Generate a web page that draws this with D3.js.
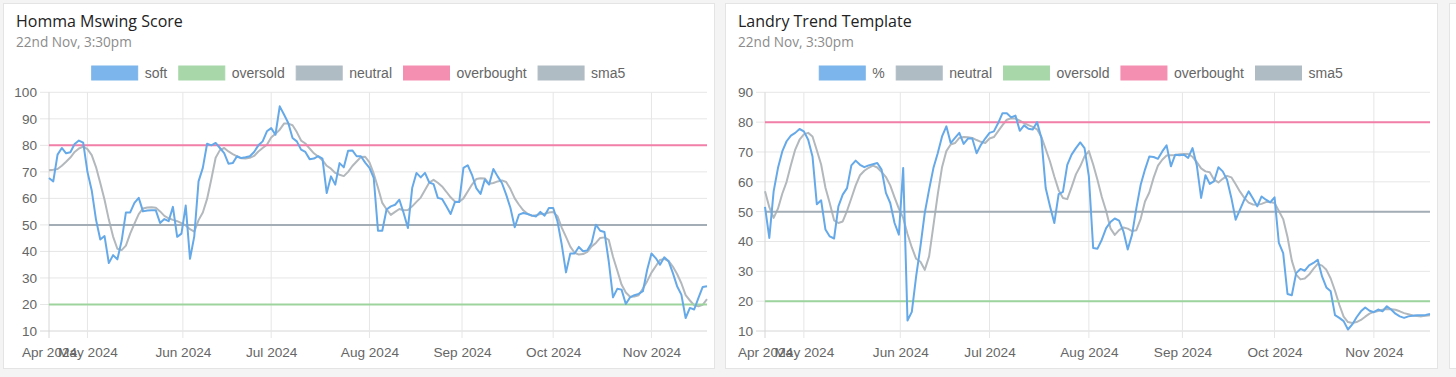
<!DOCTYPE html>
<html>
<head>
<meta charset="utf-8">
<script src="https://cdn.jsdelivr.net/npm/d3@7"></script>
<style>
    body { margin: 0; background: #f4f4f4; }
    .title { font-family: "Open Sans", sans-serif; font-size: 16px; fill: #222; }
    .subtitle { font-family: "Open Sans", sans-serif; font-size: 13.6px; fill: #8c8c8c; }
    .legend text, .axis text { font-family: "Liberation Sans", Arial, sans-serif; fill: #666; }
</style>
</head>
<body>
<svg id="chart" width="1456" height="377"></svg>
<script>
// trading days shown on both charts (weekdays between these two)
const firstDay = "2024-04-18";
const lastDay = "2024-11-20";
const monthLabels = ["Apr 2024", "May 2024", "Jun 2024", "Jul 2024", "Aug 2024", "Sep 2024", "Oct 2024", "Nov 2024"];

const mswingTicks = [10, 20, 30, 40, 50, 60, 70, 80, 90, 100];
const landryTicks = [10, 20, 30, 40, 50, 60, 70, 80, 90];

const overbought = 80;
const neutral = 50;
const oversold = 20;

const mswingSoft = [67.7, 66.4, 76.5, 79, 77, 77.4, 80.5, 81.8, 81, 70,
    63, 52, 44.5, 45.8, 35.6, 38.6, 37, 44, 54.7, 54.7,
    58.3, 60.2, 55.1, 55.4, 55.5, 55.5, 50.7, 52.2, 51.4, 56.8,
    45.5, 46.7, 57.3, 37.2, 45.7, 66.4, 71.5, 80.6, 80, 80.9,
    79, 77.1, 73.1, 73.3, 75.9, 75.2, 75.5, 75.9, 77.5, 80,
    81.5, 85.3, 86.5, 84, 94.7, 91.6, 88.4, 82.8, 81.5, 78.4,
    77.5, 74.8, 75, 75.9, 75, 62, 68.3, 65.2, 73.3, 71.7,
    78, 78.1, 75.9, 75.9, 73.5, 71.5, 67.7, 47.8, 47.8, 55.8,
    57, 57.6, 59.5, 54.5, 48.8, 63.9, 69.6, 67.9, 69.6, 66,
    65.4, 60.2, 59.8, 57, 54.1, 58.6, 58.6, 71.5, 72.5, 68.9,
    63.9, 61.7, 67.1, 65.2, 71.1, 68.3, 65.8, 61.4, 56.4, 49.1,
    53.9, 54.5, 54.1, 53.6, 53.2, 54.9, 53.5, 56.4, 56.4, 51.4,
    42.6, 32.1, 39.2, 39.2, 41.7, 40.1, 40.4, 43.2, 50.1, 47.8,
    47.3, 36.3, 22.7, 25.9, 25.6, 20.2, 22.7, 23.5, 24, 25,
    33.1, 39.2, 37.5, 35, 37.8, 36.3, 31.9, 26.9, 23.7, 14.9,
    18.7, 18.1, 22.5, 26.6, 26.9];

const mswingSma5 = [70.6, 70.8, 71.1, 72.3, 73.8, 75.4, 77.5, 78.8, 79.5, 78.6,
    76.3, 71.8, 65.8, 59.5, 52, 45.6, 41, 40.5, 42.2, 46.7,
    50.5, 54.1, 56.2, 56.6, 56.7, 56.5, 55.1, 53.4, 52.5, 51.9,
    51.4, 50.7, 49.8, 48.4, 47.5, 51.8, 54.7, 59.8, 67.3, 75.3,
    78.2, 79, 77.7, 76.7, 75.8, 75.1, 75, 75.3, 76, 77.7,
    79, 80.2, 83, 84.4, 85.9, 88.2, 88.2, 87.6, 85, 81.8,
    80.7, 78.8, 77, 75.8, 74.4, 72.3, 71.2, 69.6, 68.9, 68.4,
    70, 72.2, 73.9, 75.6, 75.7, 73.6, 69.3, 64, 58.3, 55.9,
    53.8, 54.9, 56, 55.5, 55.6, 57, 58.7, 60.3, 63.2, 66,
    67, 65.9, 64.5, 62.5, 60.4, 58.8, 58.7, 60, 62.6, 65.2,
    67.3, 67.6, 67.5, 65.5, 65.8, 66.4, 66.8, 66.2, 63.5, 60,
    57.6, 55.5, 54.2, 53.4, 53.6, 54.1, 54.2, 54.7, 54.9, 53.3,
    49, 45.5, 41.8, 39.5, 38.8, 39, 39.8, 41.9, 43.2, 45.1,
    45.3, 44.4, 38, 32.8, 27.5, 24.5, 22.9, 23, 23.5, 26,
    28.8, 32, 34.4, 36.8, 37.2, 36.4, 34.3, 31.5, 28, 23.5,
    21.5, 19.7, 19.3, 19.9, 22];

const landryPct = [51.6, 41.2, 56.8, 64.6, 70.2, 73.6, 75.5, 76.4, 77.7, 76.9,
    74.1, 68.5, 52.5, 53.8, 44, 41.7, 41, 51.8, 55.7, 57.9,
    65.5, 67.1, 65.7, 64.9, 65.5, 65.9, 66.3, 64.1, 56.3, 52.9,
    46.2, 42.3, 64.6, 13.5, 16.4, 28.3, 38.4, 49.6, 57.4, 64.6,
    69.6, 75.2, 78.6, 73, 74.7, 76.4, 72.7, 74.5, 74.5, 69.6,
    72.4, 74.5, 76.4, 76.9, 79.7, 83, 83, 81.6, 82.2, 77.1,
    78.9, 77.8, 77.5, 80, 74.7, 57.9, 51.8, 46.2, 55.9, 56.6,
    65.7, 69.1, 71.3, 73.2, 71.3, 61.8, 37.8, 37.6, 40.6, 44.5,
    46.5, 47.7, 47, 43.4, 37.3, 42.3, 51.2, 59, 64.1, 68.5,
    68.3, 67.7, 70.2, 72.2, 65.2, 69.1, 68.9, 69.1, 68, 71.3,
    65.5, 54.6, 62.2, 59.3, 60.2, 64.9, 63.5, 60.7, 54.6, 47.3,
    50.7, 54, 56.8, 54.4, 51.8, 55.1, 54, 53.1, 54.8, 39.5,
    36.1, 22.4, 22, 29.4, 30.8, 30.2, 32, 32.8, 33.9, 28.3,
    24.6, 23.3, 15.3, 14.4, 13.3, 10.5, 12.2, 14.6, 16.6, 17.9,
    16.8, 16.3, 17.2, 16.6, 18.3, 17.2, 15.8, 14.9, 14.4, 14.9,
    15.1, 15.3, 15.3, 15.4, 15.7];

const landrySma5 = [56.8, 51.5, 47.9, 51, 56, 60, 65.6, 70.8, 74.1, 75.9,
    76.4, 75.2, 70.6, 65.8, 58, 52.8, 47.1, 46.2, 46.7, 50.3,
    54.5, 58.8, 62.2, 63.7, 64.7, 65.4, 64.8, 63.3, 61.6, 58.8,
    54.8, 51, 47.9, 42.5, 38, 34.2, 33.2, 30.5, 35, 45.3,
    55.7, 64.9, 70.3, 72.5, 73, 74.7, 75, 74.9, 74.7, 74,
    73.4, 73, 74.5, 75, 77, 79, 80.8, 81.3, 81.2, 80.5,
    79.7, 79, 78.4, 77.6, 75.1, 71, 66.8, 61.8, 57.2, 54.6,
    54.2, 58.2, 62.5, 65.2, 68.5, 70.3, 65.8, 60.6, 54.9, 50.2,
    44.4, 42.2, 43.8, 44.7, 44.3, 43.5, 43.8, 47.6, 53.4, 56.4,
    61.4, 65.4, 67.4, 68.8, 68.9, 69, 69.2, 69.3, 69.3, 68.4,
    66.6, 64.5, 63.5, 63.2, 60.7, 59.8, 61, 62, 61.5, 59.2,
    56.7, 54.6, 53, 52.4, 52.3, 52.6, 53.2, 53.2, 52.9, 50.2,
    47.5, 41.5, 33.6, 28.9, 27.3, 27.6, 28.9, 30.8, 32.5, 31.9,
    30.5, 27.6, 23.5, 18.8, 14.8, 13, 12.7, 13, 13.7, 14.8,
    15.8, 16.4, 16.7, 17.1, 17.4, 17.3, 17.1, 16.6, 16, 15.6,
    15.2, 15, 14.9, 15.1, 15.3];

const lineColor = {soft: "#66a9e8", oversold: "#9dd49e", neutral: "#a2adb5", overbought: "#f27fa8", sma5: "#b2b8bc"};
const boxColor = {soft: "#7cb5ec", oversold: "#a8d8a9", neutral: "#b0bcc4", overbought: "#f48fb1", sma5: "#b0bcc4"};

const parseDay = d3.timeParse("%Y-%m-%d");
const days = d3.timeDay.range(parseDay(firstDay), d3.timeDay.offset(parseDay(lastDay), 1))
    .filter(d => d.getDay() !== 0 && d.getDay() !== 6);
const tickDates = monthLabels.map(d3.timeParse("%b %Y"));

const svg = d3.select("#chart");
svg.append("rect").attr("width", 1456).attr("height", 377).attr("fill", "#f4f4f4");

function drawChart(o) {
    const g = svg.append("g").attr("transform", `translate(${o.x},3)`);
    const w = o.w, h = 365;
    const top = 89.3, bottom = 328;

    g.append("rect")
        .attr("x", 0.5).attr("y", 0.5)
        .attr("width", w).attr("height", h)
        .attr("fill", "#fff")
        .attr("stroke", "#e4e4e4");

    g.append("text").attr("class", "title").attr("x", 13).attr("y", 24).text(o.title);
    g.append("text").attr("class", "subtitle").attr("x", 13).attr("y", 44).text("22nd Nov, 3:30pm");

    // index scale: points are evenly spaced, months placed between them
    const x = d3.scaleLinear().domain([0, days.length - 1]).range([o.left, w - 7]);
    const xTime = d3.scaleTime().domain(days).range(days.map((d, i) => x(i))).clamp(true);
    const y = d3.scaleLinear().domain([10, d3.max(o.ticks)]).range([bottom, top]);

    // grid
    g.append("g").selectAll("line")
        .data(o.ticks)
        .enter().append("line")
        .attr("x1", o.left - 9).attr("x2", w - 7)
        .attr("y1", d => y(d)).attr("y2", d => y(d))
        .attr("stroke", d => d === 10 ? "#d6d6d6" : "#e6e6e6");
    g.append("g").selectAll("line")
        .data(tickDates)
        .enter().append("line")
        .attr("x1", d => xTime(d)).attr("x2", d => xTime(d))
        .attr("y1", top).attr("y2", bottom + 7)
        .attr("stroke", (d, i) => i === 0 ? "#d6d6d6" : "#e6e6e6");

    const yAxis = g.append("g")
        .attr("class", "axis")
        .attr("transform", `translate(${o.left - 12},0)`)
        .call(d3.axisLeft(y).tickValues(o.ticks).tickSize(0).tickPadding(0));
    yAxis.select(".domain").remove();
    yAxis.selectAll("text").style("font-size", "13.6px");

    const xAxis = g.append("g")
        .attr("class", "axis")
        .attr("transform", `translate(0,${bottom + 14})`)
        .call(d3.axisBottom(xTime).tickValues(tickDates).tickFormat(d3.timeFormat("%b %Y")).tickSize(0).tickPadding(0));
    xAxis.select(".domain").remove();
    xAxis.selectAll("text").style("font-size", "13.6px").attr("dy", "0.9em");

    const line = d3.line().x((d, i) => x(i)).y(d => y(d));
    const flat = v => days.map(() => v);

    // first dataset ends up on top
    const layers = [
        {key: "sma5", values: o.sma5},
        {key: "overbought", values: flat(overbought)},
        {key: "neutral", values: flat(neutral)},
        {key: "oversold", values: flat(oversold)},
        {key: "soft", values: o.main}
    ];
    g.append("g").selectAll("path")
        .data(layers)
        .enter().append("path")
        .attr("d", d => line(d.values))
        .attr("fill", "none")
        .attr("stroke", d => lineColor[d.key])
        .attr("stroke-width", 2)
        .attr("stroke-linejoin", "round");

    // legend, centred on the card
    const legend = g.append("g").attr("class", "legend");
    let pos = 0;
    o.legend.forEach(item => {
        legend.append("rect")
            .attr("x", pos).attr("y", 63)
            .attr("width", 46).attr("height", 14)
            .attr("fill", boxColor[item.key])
            .attr("stroke", boxColor[item.key]);
        const t = legend.append("text")
            .attr("x", pos + 53).attr("y", 75)
            .style("font-size", "14px")
            .text(item.label);
        pos += 53 + t.node().getComputedTextLength() + 11.5;
    });
    legend.attr("transform", `translate(${(w - (pos - 11.5)) / 2},0)`);
}

drawChart({
    x: 3, w: 711, left: 46,
    title: "Homma Mswing Score",
    ticks: mswingTicks,
    main: mswingSoft, sma5: mswingSma5,
    legend: [{key: "soft", label: "soft"}, {key: "oversold", label: "oversold"}, {key: "neutral", label: "neutral"},
        {key: "overbought", label: "overbought"}, {key: "sma5", label: "sma5"}]
});

drawChart({
    x: 725, w: 712, left: 40,
    title: "Landry Trend Template",
    ticks: landryTicks,
    main: landryPct, sma5: landrySma5,
    legend: [{key: "soft", label: "%"}, {key: "neutral", label: "neutral"}, {key: "oversold", label: "oversold"},
        {key: "overbought", label: "overbought"}, {key: "sma5", label: "sma5"}]
});

// edge of the next card
svg.append("rect")
    .attr("x", 1449.5).attr("y", 3.5)
    .attr("width", 60).attr("height", 365)
    .attr("fill", "#fff").attr("stroke", "#e4e4e4");
</script>
</body>
</html>
